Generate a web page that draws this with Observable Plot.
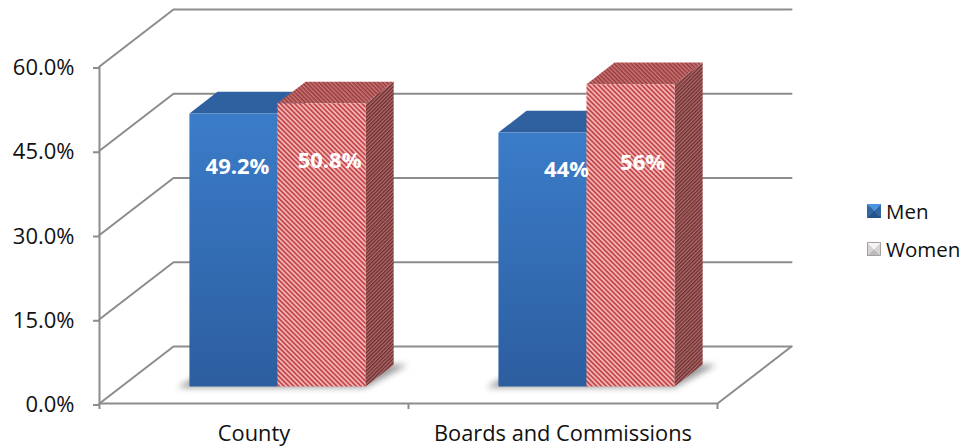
<!DOCTYPE html>
<html>
<head>
<meta charset="utf-8">
<script src="https://cdn.jsdelivr.net/npm/d3@7"></script>
<script src="https://cdn.jsdelivr.net/npm/@observablehq/plot@0.6"></script>
<style>
  html, body { margin: 0; padding: 0; background: #fff; overflow: hidden; }
  #wrap { position: relative; width: 963px; height: 447px; font-family: "Open Sans", sans-serif; color: #111; }
  #legend { position: absolute; left: 867px; top: 192px; font-size: 20.5px; line-height: 38px; }
  #legend div { display: flex; align-items: center; gap: 5px; white-space: nowrap; }
  #legend i { display: block; width: 14px; height: 14px; box-sizing: border-box; }
  .men { background: conic-gradient(from -45deg, #4f94e0 0 90deg, #33679f 90deg 180deg, #24528c 180deg 270deg, #33679f 270deg); }
  .women { background: conic-gradient(from -45deg, #f7f4f4 0 90deg, #d8d4d4 90deg 180deg, #bbb 180deg 270deg, #d8d4d4 270deg); border: 1px solid #a8a0a0; }
</style>
</head>
<body>
<div id="wrap"><div id="legend"></div></div>
<script>
const categories = ["County", "Boards and Commissions"];
const seriesNames = ["Men", "Women"];
const menHeights = [48.6, 45.2];
const womenHeights = [50.4, 53.8];
const menLabels = ["49.2%", "44%"];
const womenLabels = ["50.8%", "56%"];
const yTicks = [0, 15, 30, 45, 60];

// Oblique projection: depth z in 0..1 moves a point right and up, in data units.
const depthX = 0.2395, depthY = 10.15;
const zFront = 0.3, zBack = 0.68;
const barWidth = 0.285, groupShift = 0.576;
const project = (x, y, z) => ({x: x + z * depthX, y: y + z * depthY});

const base = {x: groupShift - depthX * zFront};
function faces(i, side, h) {
  const x0 = i + base.x + (side === 0 ? -barWidth : 0);
  const x1 = x0 + barWidth;
  return {
    front: [project(x0, 0, zFront), project(x1, 0, zFront), project(x1, h, zFront), project(x0, h, zFront)],
    top: [project(x0, h, zFront), project(x1, h, zFront), project(x1, h, zBack), project(x0, h, zBack)],
    right: [project(x1, 0, zFront), project(x1, h, zFront), project(x1, h, zBack), project(x1, 0, zBack)],
    shadow: [project(x0 - 0.04, -0.2, zFront), project(x1, -0.2, zFront), project(x1 + 0.045, 0, zBack), project(x0, 0, zBack)]
  };
}
const poly = (pts, fill, extra = {}) =>
  Plot.line(pts, {x: "x", y: "y", fill, stroke: "none", curve: "linear-closed", ...extra});

// Axis walls and floor
const grid = yTicks.flatMap((t) => [
  {k: t, ...project(0, t, 0)}, {k: t, ...project(0, t, 1)}, {k: t, ...project(2, t, 1)}
]);
const floorEdge = [project(2, 0, 0), project(2, 0, 1)];

const defs = () => {
  const d = d3.create("svg:defs");
  const stripes = (id, a, b, size, angle) => {
    const p = d.append("pattern").attr("id", id).attr("patternUnits", "userSpaceOnUse")
      .attr("width", size).attr("height", size)
      .attr("patternTransform", `rotate(${angle})`);
    p.append("rect").attr("width", size).attr("height", size).attr("fill", a);
    p.append("rect").attr("width", size).attr("height", size / 2).attr("fill", b);
  };
  stripes("hatchFront", "#f2b4b0", "#c4464e", 3.4, 45);
  stripes("hatchTop", "#c77876", "#98383c", 3, 45);
  stripes("hatchSide", "#ab6f6d", "#6f2a2c", 2.6, -45);
  const g = d.append("linearGradient").attr("id", "blueFront").attr("x1", 0).attr("y1", 0).attr("x2", 0).attr("y2", 1);
  g.append("stop").attr("offset", "0").attr("stop-color", "#3b7cc9");
  g.append("stop").attr("offset", "1").attr("stop-color", "#2c5e9f");
  return d.node();
};

const marks = [defs];
const axisColor = "#8c8c8c";
marks.push(
  Plot.line(grid, {x: "x", y: "y", z: "k", stroke: axisColor, strokeWidth: 2}),
  Plot.line(floorEdge, {x: "x", y: "y", stroke: axisColor, strokeWidth: 2}),
  Plot.ruleX([0], {y1: 0, y2: 60, stroke: axisColor, strokeWidth: 2}),
  Plot.ruleY([0], {x1: 0, x2: 2, stroke: axisColor, strokeWidth: 2})
);

categories.forEach((_, i) => {
  const m = faces(i, 0, menHeights[i]);
  const w = faces(i, 1, womenHeights[i]);
  marks.push(
    poly([m.shadow[0], w.shadow[1], w.shadow[2], m.shadow[3]], "#999", {imageFilter: "blur(3px)"}),
    poly(m.top, "#2f609f"),
    poly(m.right, "#234d85"),
    poly(m.front, "url(#blueFront)"),
    poly(w.top, "url(#hatchTop)"),
    poly(w.right, "url(#hatchSide)"),
    poly(w.front, "url(#hatchFront)")
  );
});

// Hand-placed data labels, as in the reference: [horizontal nudge, height]
const labelPlacement = {
  men: [[0.013, 39], [0.078, 38.5]],
  women: [[0.026, 40.2], [0.039, 39.7]]
};
const labelRows = categories.flatMap((_, i) => {
  const cy = depthY * zFront;
  const cx = i + groupShift;
  return [
    {x: cx - barWidth / 2 + labelPlacement.men[i][0], y: labelPlacement.men[i][1] + cy, t: menLabels[i]},
    {x: cx + barWidth / 2 + labelPlacement.women[i][0], y: labelPlacement.women[i][1] + cy, t: womenLabels[i]}
  ];
});
marks.push(
  Plot.text(labelRows, {x: "x", y: "y", text: "t", fill: "#fff", fontWeight: "bold", fontSize: 22, fontFamily: "Open Sans"}),
  Plot.axisY({ticks: yTicks, tickFormat: (d) => d.toFixed(1) + "%", tickSize: 6, tickPadding: 19, label: null, dy: 1.5,
    fontSize: 22, fill: "#111", stroke: axisColor, strokeWidth: 2, fontFamily: "Open Sans"}),
  Plot.axisX({ticks: [0, 1, 2], tickFormat: () => "", tickSize: 6, label: null, stroke: axisColor, strokeWidth: 2}),
  Plot.axisX({ticks: [0.5, 1.5], tickFormat: (d) => categories[d - 0.5], tickSize: 0, tickPadding: 22, label: null,
    fontSize: 21.8, fill: "#111", fontFamily: "Open Sans"})
);

const chart = Plot.plot({
  width: 845, height: 447,
  marginLeft: 99, marginRight: 0, marginTop: 0, marginBottom: 44,
  x: {domain: [0, 2], range: [99, 717]},
  y: {domain: [0, 60], range: [403, 66]},
  style: {background: "transparent", overflow: "visible"},
  marks
});
document.getElementById("wrap").prepend(chart);

const legend = d3.select("#legend");
seriesNames.forEach((n, i) => {
  const row = legend.append("div");
  row.append("i").attr("class", i === 0 ? "men" : "women");
  row.append("span").text(n);
});
</script>
</body>
</html>
